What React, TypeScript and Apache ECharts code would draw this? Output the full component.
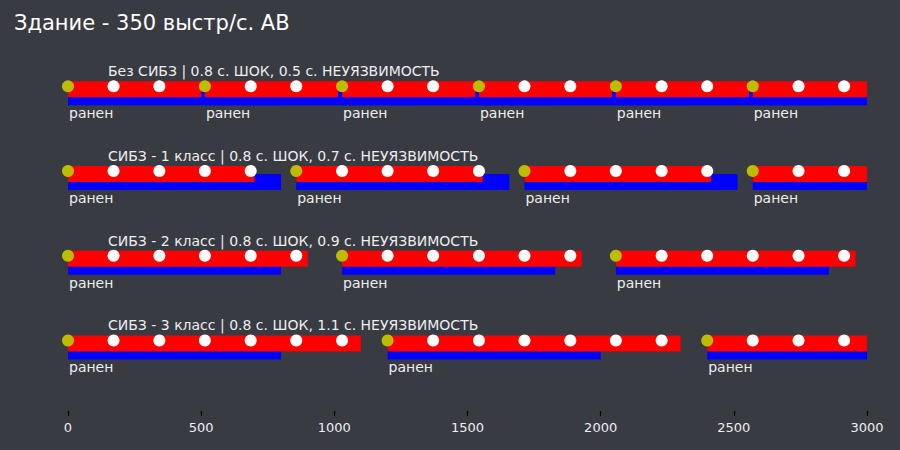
import React, { useEffect, useRef } from "react";
import * as echarts from "echarts";

const chartTitle = "Здание - 350 выстр/с. АВ";
const shotTimes = [0, 171, 343, 514, 686, 857, 1029, 1200, 1371, 1543, 1714, 1886, 2057, 2229, 2400, 2571, 2743, 2914];
const rowLabels = [
  "Без СИБЗ | 0.8 с. ШОК, 0.5 с. НЕУЯЗВИМОСТЬ",
  "СИБЗ - 1 класс | 0.8 с. ШОК, 0.7 с. НЕУЯЗВИМОСТЬ",
  "СИБЗ - 2 класс | 0.8 с. ШОК, 0.9 с. НЕУЯЗВИМОСТЬ",
  "СИБЗ - 3 класс | 0.8 с. ШОК, 1.1 с. НЕУЯЗВИМОСТЬ",
];
const woundTimes = [
  [0, 514, 1029, 1543, 2057, 2571],
  [0, 857, 1714, 2571],
  [0, 1029, 2057],
  [0, 1200, 2400],
];
const invulnDurations = [500, 700, 900, 1100];
const shockDurations = [800, 800, 800, 800];
const woundLabel = "ранен";
const xMin = 0;
const xMax = 3000;
const xInterval = 500;

const FONT = "DejaVu Sans";
const TEXT = "#eeeeee";

export default function App() {
  const ref = useRef<HTMLDivElement>(null);
  useEffect(() => {
    if (!ref.current) return;
    document.body.style.margin = "0";
    const chart = echarts.init(ref.current, undefined, { renderer: "svg" });

    const blueData: number[][] = [];
    const redData: number[][] = [];
    const dotData: number[][] = [];
    const woundTextData: number[][] = [];
    woundTimes.forEach((ws, r) => {
      ws.forEach((t) => {
        blueData.push([t, Math.min(t + shockDurations[r], xMax), r]);
        redData.push([t, Math.min(t + invulnDurations[r], xMax), r]);
        woundTextData.push([t, r]);
      });
      shotTimes.forEach((s) => {
        dotData.push([s, r, ws.includes(s) ? 1 : 0]);
      });
    });
    const rowTitleData = rowLabels.map((_, r) => [0, r]);

    const rectRender = (color: string, dy: number) => (params: any, api: any) => {
      const s = api.value(0);
      const e = api.value(1);
      const r = api.value(2);
      const p0 = api.coord([s, r]);
      const p1 = api.coord([e, r]);
      return {
        type: "rect",
        shape: { x: p0[0], y: p0[1] + dy, width: p1[0] - p0[0], height: 16 },
        style: { fill: color },
      };
    };

    chart.setOption({
      animation: false,
      backgroundColor: "#383b42",
      title: {
        text: chartTitle,
        left: 9,
        top: 7,
        textStyle: { color: "#ffffff", fontSize: 21, fontWeight: "normal", fontFamily: FONT },
      },
      grid: { left: 68, right: 33, top: 51, bottom: 39 },
      xAxis: {
        type: "value",
        position: "bottom",
        min: xMin,
        max: xMax,
        interval: xInterval,
        axisLine: { show: true, onZero: false, lineStyle: { color: "rgba(0,0,0,0)" } },
        axisTick: { show: true, length: 5, lineStyle: { color: "#000000", width: 1.2 } },
        splitLine: { show: false },
        axisLabel: {
          color: TEXT,
          fontSize: 13,
          fontFamily: FONT,
          margin: 10,
          formatter: (v: number) => String(v),
        },
      },
      yAxis: {
        type: "value",
        min: -0.5,
        max: 3.75,
        inverse: true,
        show: false,
      },
      series: [
        {
          type: "custom",
          data: blueData,
          encode: { x: [0, 1], y: 2 },
          renderItem: rectRender("#0000ff", -4),
          z: 1,
        },
        {
          type: "custom",
          data: redData,
          encode: { x: [0, 1], y: 2 },
          renderItem: rectRender("#ff0000", -12),
          z: 2,
        },
        {
          type: "custom",
          data: dotData,
          encode: { x: 0, y: 1 },
          z: 3,
          renderItem: (params: any, api: any) => {
            const p = api.coord([api.value(0), api.value(1)]);
            return {
              type: "circle",
              shape: { cx: p[0], cy: p[1] - 7, r: 6 },
              style: { fill: api.value(2) ? "#bcbc00" : "#ffffff" },
            };
          },
        },
        {
          type: "custom",
          data: woundTextData,
          encode: { x: 0, y: 1 },
          z: 4,
          renderItem: (params: any, api: any) => {
            const p = api.coord([api.value(0), api.value(1)]);
            return {
              type: "text",
              style: {
                text: woundLabel,
                x: p[0] + 1,
                y: p[1] + 20,
                fill: TEXT,
                fontSize: 14,
                fontFamily: FONT,
                align: "left",
                verticalAlign: "middle",
              },
            };
          },
        },
        {
          type: "custom",
          data: rowTitleData,
          encode: { x: 0, y: 1 },
          z: 4,
          renderItem: (params: any, api: any) => {
            const r = api.value(1);
            const p = api.coord([api.value(0), r]);
            return {
              type: "text",
              style: {
                text: rowLabels[params.dataIndex],
                x: p[0] + 40,
                y: p[1] - 22,
                fill: TEXT,
                fontSize: 14,
                fontFamily: FONT,
                align: "left",
                verticalAlign: "middle",
              },
            };
          },
        },
      ],
    });
    return () => chart.dispose();
  }, []);
  return <div ref={ref} style={{ width: 900, height: 450 }} />;
}
